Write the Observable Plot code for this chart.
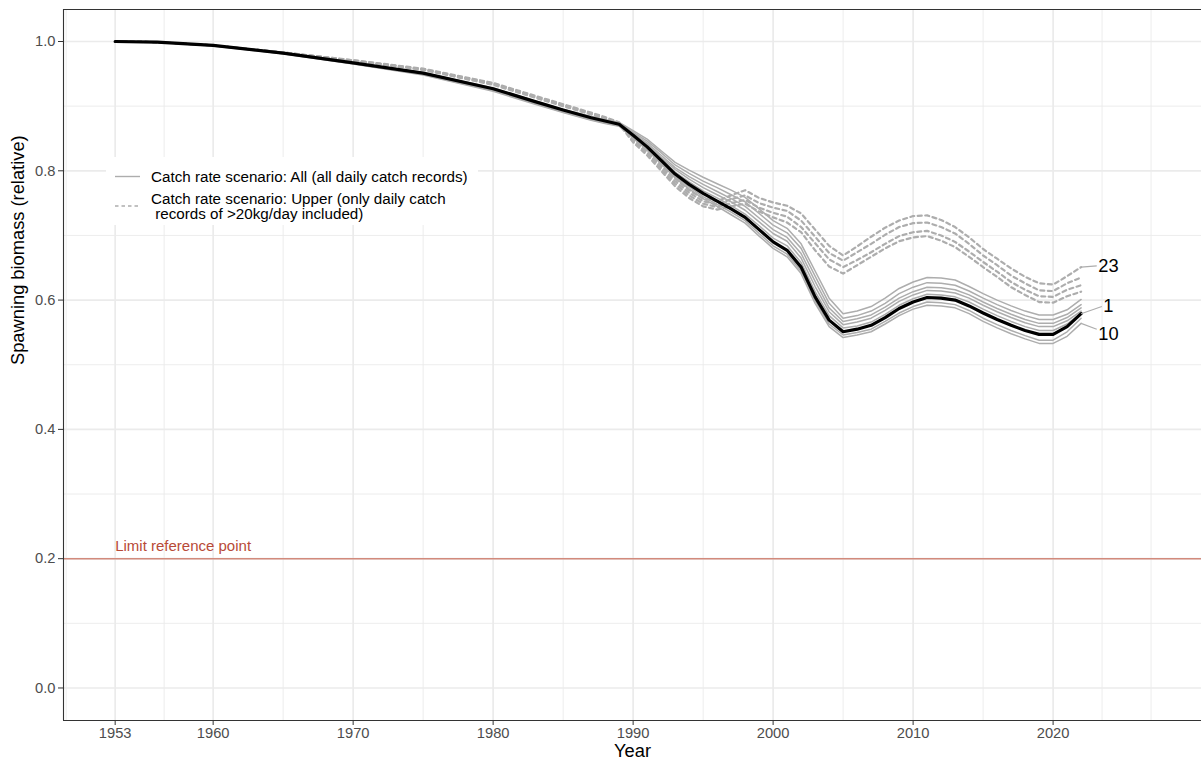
<!DOCTYPE html>
<html><head><meta charset="utf-8">
<script src="https://cdn.jsdelivr.net/npm/d3@7"></script>
<script src="https://cdn.jsdelivr.net/npm/@observablehq/plot@0.6"></script>
<style>
body{margin:0;background:#fff;}
#wrap{position:relative;width:1201px;height:764px;font-family:"Liberation Sans",Arial,sans-serif;}
#wrap svg{display:block;}
#legend{position:absolute;left:0;top:0;pointer-events:none;}
</style></head><body><div id="wrap"></div>
<script>
// ---------- data ----------
const years = [1953,1956,1960,1965,1970,1975,1980,1983,1985,1987,1988,1989,
  1990,1991,1992,1993,1994,1995,1996,1997,1998,1999,
  2000,2001,2002,2003,2004,2005,2006,2007,2008,2009,
  2010,2011,2012,2013,2014,2015,2016,2017,2018,2019,
  2020,2021,2022];

// Catch rate scenario: All
const run1 = [1.000,0.999,0.994,0.982,0.967,0.951,0.927,0.907,0.894,0.882,0.877,0.872,
  0.855,0.837,0.816,0.795,0.779,0.765,0.753,0.741,0.728,0.709,
  0.690,0.677,0.651,0.605,0.569,0.551,0.555,0.561,0.573,0.587,
  0.597,0.604,0.603,0.600,0.591,0.580,0.570,0.561,0.553,0.547,
  0.547,0.559,0.579];
const runAllA = [1.000,0.999,0.994,0.982,0.967,0.952,0.928,0.908,0.895,0.884,0.879,0.875,
  0.862,0.849,0.831,0.813,0.801,0.790,0.780,0.770,0.759,0.741,
  0.723,0.711,0.687,0.645,0.603,0.579,0.583,0.590,0.603,0.618,
  0.628,0.635,0.634,0.631,0.621,0.610,0.600,0.591,0.583,0.577,
  0.577,0.585,0.601];
const runAllB = [1.000,0.999,0.994,0.982,0.967,0.951,0.927,0.907,0.894,0.883,0.878,0.874,
  0.860,0.846,0.828,0.809,0.796,0.784,0.774,0.763,0.752,0.734,
  0.716,0.704,0.680,0.637,0.595,0.572,0.576,0.583,0.595,0.610,
  0.620,0.627,0.626,0.623,0.614,0.603,0.593,0.584,0.576,0.570,
  0.570,0.578,0.593];
const runAllC = [1.000,0.999,0.994,0.982,0.966,0.950,0.926,0.906,0.893,0.882,0.877,0.873,
  0.858,0.843,0.824,0.805,0.791,0.779,0.768,0.757,0.745,0.727,
  0.709,0.697,0.672,0.629,0.588,0.567,0.571,0.577,0.589,0.603,
  0.613,0.620,0.619,0.616,0.608,0.597,0.587,0.578,0.570,0.564,
  0.564,0.573,0.588];
const runAllD = [1.000,0.999,0.994,0.982,0.966,0.950,0.925,0.905,0.892,0.881,0.876,0.872,
  0.857,0.841,0.821,0.802,0.787,0.774,0.763,0.752,0.739,0.721,
  0.703,0.691,0.665,0.621,0.582,0.562,0.566,0.572,0.584,0.598,
  0.608,0.615,0.614,0.611,0.603,0.592,0.582,0.573,0.565,0.559,
  0.559,0.568,0.583];
const runAllE = [1.000,0.999,0.994,0.982,0.966,0.950,0.925,0.905,0.891,0.880,0.875,0.871,
  0.856,0.839,0.819,0.798,0.783,0.769,0.758,0.746,0.733,0.715,
  0.696,0.684,0.658,0.613,0.576,0.557,0.560,0.566,0.578,0.592,
  0.602,0.609,0.608,0.605,0.597,0.586,0.576,0.567,0.559,0.553,
  0.553,0.563,0.580];
const runAllF = [1.000,0.999,0.994,0.981,0.966,0.949,0.924,0.904,0.891,0.879,0.874,0.870,
  0.853,0.834,0.813,0.791,0.775,0.760,0.748,0.736,0.723,0.703,
  0.684,0.671,0.645,0.599,0.563,0.546,0.550,0.555,0.567,0.580,
  0.590,0.597,0.596,0.593,0.584,0.572,0.562,0.553,0.545,0.538,
  0.538,0.551,0.572];
const run10 = [1.000,0.999,0.993,0.981,0.965,0.948,0.923,0.903,0.890,0.878,0.873,0.869,
  0.851,0.832,0.811,0.789,0.772,0.757,0.745,0.732,0.719,0.699,
  0.680,0.667,0.641,0.595,0.559,0.542,0.546,0.551,0.563,0.576,
  0.586,0.592,0.591,0.588,0.579,0.567,0.557,0.548,0.540,0.533,
  0.533,0.544,0.564];

// Catch rate scenario: Upper
const run23 = [1.000,0.999,0.994,0.983,0.971,0.958,0.936,0.916,0.903,0.890,0.883,0.875,
  0.850,0.832,0.809,0.788,0.770,0.757,0.753,0.762,0.770,0.758,
  0.751,0.746,0.734,0.709,0.684,0.669,0.683,0.698,0.712,0.723,
  0.730,0.731,0.724,0.713,0.697,0.679,0.664,0.649,0.636,0.626,
  0.624,0.637,0.651];
const runUpB = [1.000,0.999,0.994,0.983,0.971,0.957,0.935,0.915,0.902,0.889,0.882,0.874,
  0.848,0.829,0.806,0.784,0.766,0.753,0.748,0.756,0.762,0.750,
  0.743,0.738,0.723,0.698,0.673,0.661,0.674,0.687,0.701,0.713,
  0.719,0.720,0.713,0.703,0.687,0.669,0.654,0.638,0.626,0.615,
  0.614,0.626,0.635];
const runUpC = [1.000,0.999,0.994,0.983,0.970,0.957,0.934,0.914,0.901,0.888,0.881,0.873,
  0.846,0.827,0.803,0.780,0.762,0.749,0.744,0.750,0.755,0.743,
  0.735,0.729,0.713,0.688,0.663,0.651,0.662,0.674,0.687,0.699,
  0.705,0.707,0.700,0.690,0.675,0.659,0.644,0.628,0.616,0.606,
  0.605,0.616,0.623];
const runUpD = [1.000,0.999,0.994,0.983,0.970,0.956,0.933,0.913,0.900,0.887,0.880,0.872,
  0.844,0.824,0.800,0.776,0.758,0.745,0.740,0.745,0.749,0.737,
  0.728,0.720,0.705,0.677,0.652,0.641,0.654,0.667,0.680,0.691,
  0.697,0.699,0.692,0.682,0.667,0.651,0.636,0.620,0.608,0.597,
  0.596,0.606,0.613];

const limitRef = [0.2];
const limitLabel = "Limit reference point";
const labelIds = ["23", "1", "10"];
const legendLabels = ["Catch rate scenario: All (all daily catch records)",
  "Catch rate scenario: Upper (only daily catch",
  "\u00a0records of >20kg/day included)"];
const xTicks = [1953,1960,1970,1980,1990,2000,2010,2020];
const xMinor = [1949.5,1956.5,1965,1975,1985,1995,2005,2015,2023.5,2027];
const yTicks = [0,0.2,0.4,0.6,0.8,1.0];
const yMinor = [0.1,0.3,0.5,0.7,0.9];

// ---------- build ----------
const series = [
  {id:"A", scenario:"All", values:runAllA},
  {id:"B", scenario:"All", values:runAllB},
  {id:"C", scenario:"All", values:runAllC},
  {id:"D", scenario:"All", values:runAllD},
  {id:"E", scenario:"All", values:runAllE},
  {id:"F", scenario:"All", values:runAllF},
  {id:"10", scenario:"All", values:run10},
  {id:"23", scenario:"Upper", values:run23},
  {id:"UB", scenario:"Upper", values:runUpB},
  {id:"UC", scenario:"Upper", values:runUpC},
  {id:"UD", scenario:"Upper", values:runUpD},
  {id:"1", scenario:"All", values:run1}
];
const rows = series.flatMap(s => years.map((yr, i) => ({year: yr, value: s.values[i], id: s.id, scenario: s.scenario})));

const lastYear = years[years.length - 1];
const pxPerYear = 14.0;
const labelNudge = {"23": 0.001, "1": 0.011, "10": -0.016};
const leaderNudge = {"23": 0.002, "1": 0.011, "10": -0.009};
const ends = labelIds.map(id => {
  const s = series.find(s => s.id === id);
  const v = s.values[s.values.length - 1];
  const half = id.length * 0.556 * 18.3 / 2;
  return {id, x0: lastYear, y0: v,
    tx: lastYear + 1.95, ty: v + labelNudge[id],
    x1: lastYear + 1.95 - (half + 1.5) / pxPerYear, y1: v + leaderNudge[id]};
});

const grey = "#ADADAD";
const xDomain = [1949.31, 2030.6];
const yDomain = [-0.0503, 1.0495];

const chart = Plot.plot({
  width: 1201, height: 764,
  marginLeft: 63, marginRight: 0, marginTop: 9, marginBottom: 44,
  x: {domain: xDomain},
  y: {domain: yDomain},
  style: {fontFamily: "'Liberation Sans', Arial, sans-serif", background: "white", overflow: "visible"},
  marks: [
    Plot.gridX(xMinor, {stroke: "#EBEBEB", strokeOpacity: 1, strokeWidth: 0.9}),
    Plot.gridY(yMinor, {stroke: "#EBEBEB", strokeOpacity: 1, strokeWidth: 0.9}),
    Plot.gridX(xTicks, {stroke: "#EBEBEB", strokeOpacity: 1, strokeWidth: 1.7}),
    Plot.gridY(yTicks, {stroke: "#EBEBEB", strokeOpacity: 1, strokeWidth: 1.7}),
    Plot.ruleY(limitRef, {y: d => d, stroke: "#D28A7C", strokeOpacity: 1, strokeWidth: 1.6}),
    Plot.text(limitRef, {x: () => years[0], y: d => d, text: () => limitLabel, textAnchor: "start", dy: -12, fontSize: 15, fill: "#B84A37"}),
    Plot.line(rows.filter(d => d.scenario === "All" && d.id !== "1"), {x: "year", y: "value", z: "id", stroke: grey, strokeWidth: 1.5}),
    Plot.line(rows.filter(d => d.scenario === "Upper"), {x: "year", y: "value", z: "id", stroke: grey, strokeWidth: 2.2, strokeDasharray: "4,3.5"}),
    Plot.line(rows.filter(d => d.id === "1"), {x: "year", y: "value", stroke: "#000", strokeWidth: 3.2}),
    Plot.link(ends, {x1: "x0", y1: "y0", x2: "x1", y2: "y1", stroke: grey, strokeWidth: 1.1}),
    Plot.text(ends, {x: "tx", y: "ty", text: "id", fontSize: 18.3, fill: "#000"}),
    Plot.axisX({ticks: xTicks, tickSize: 5, tickPadding: 2, fontSize: 14.7, color: "#4D4D4D", stroke: "#333333", tickFormat: d => String(d), label: null}),
    Plot.axisY({ticks: yTicks, tickSize: 5, tickPadding: 3, fontSize: 14.7, color: "#4D4D4D", stroke: "#333333", tickFormat: d3.format(".1f"), label: null}),
    Plot.ruleX([xDomain[0]], {stroke: "#333333", strokeWidth: 1.1}),
    Plot.ruleY([yDomain[0], yDomain[1]], {stroke: "#333333", strokeWidth: 1.1}),
    Plot.text(["Year"], {text: d => d, frameAnchor: "bottom", dy: 36, fontSize: 18.3, fill: "#000"}),
    Plot.text(["Spawning biomass (relative)"], {text: d => d, frameAnchor: "left", dx: -45, rotate: -90, fontSize: 18.3, fill: "#000"})
  ]
});
const wrap = document.getElementById("wrap");
wrap.appendChild(chart);

// legend overlay
const leg = d3.select(wrap).append("svg").attr("id", "legend").attr("width", 1201).attr("height", 764)
  .style("font-family", "'Liberation Sans', Arial, sans-serif");
leg.append("rect").attr("x", 106).attr("y", 157).attr("width", 372).attr("height", 68).attr("fill", "white");
leg.append("line").attr("x1", 115).attr("x2", 140).attr("y1", 176.5).attr("y2", 176.5).attr("stroke", grey).attr("stroke-width", 1.4);
leg.append("line").attr("x1", 115).attr("x2", 140).attr("y1", 206).attr("y2", 206).attr("stroke", grey).attr("stroke-width", 1.4).attr("stroke-dasharray", "3.5,3");
[176.5, 198.5, 213.5].forEach((yy, i) => {
  leg.append("text").attr("x", 151).attr("y", yy).attr("dy", "0.35em").attr("font-size", 15.2).attr("fill", "#000")
    .attr("xml:space", "preserve").text(legendLabels[i]);
});
</script></body></html>
